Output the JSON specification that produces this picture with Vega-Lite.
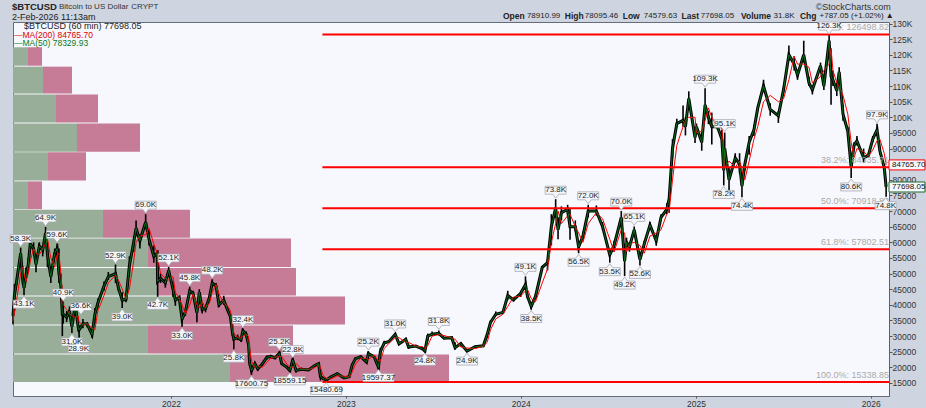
{
"$schema":"https://vega.github.io/schema/vega-lite/v6.json",
"width":876,"height":374,"autosize":"none",
"padding":{"left":13,"top":22,"right":37,"bottom":12},
"background":"#cfd5e0",
"view":{"fill":"#f6f8fd","stroke":"#666c78"},
"config":{"text":{"font":"Liberation Sans"},"axisY":{"labelOverlap":false,"tickCount":30}},
"datasets":{
"vol":[
{"lo":15320,"hi":24150,"up":217,"total":436},
{"lo":24400,"hi":33400,"up":135,"total":280},
{"lo":33700,"hi":42700,"up":169,"total":332},
{"lo":43000,"hi":51800,"up":145,"total":283},
{"lo":52100,"hi":61200,"up":135,"total":278},
{"lo":61500,"hi":70400,"up":90,"total":177},
{"lo":70600,"hi":79500,"up":15,"total":29},
{"lo":79800,"hi":88800,"up":35,"total":73},
{"lo":89000,"hi":98000,"up":64,"total":127},
{"lo":98300,"hi":107300,"up":43,"total":85},
{"lo":107600,"hi":116200,"up":30,"total":59},
{"lo":116500,"hi":122400,"up":15,"total":29}
],
"prices":[
{"d":"2021-02-05","h":38500,"l":33800,"m":36500,"r":35000},
{"d":"2021-02-08","h":46700,"l":38000,"m":43000,"r":37500},
{"d":"2021-02-13","h":49700,"l":46500,"m":48000,"r":42000},
{"d":"2021-02-21","h":58300,"l":54000,"m":56500,"r":50000},
{"d":"2021-02-25","h":52500,"l":46500,"m":48500,"r":52000},
{"d":"2021-02-28","h":47500,"l":43100,"m":45500,"r":50000},
{"d":"2021-03-04","h":52000,"l":47500,"m":49000,"r":47500},
{"d":"2021-03-09","h":55000,"l":50500,"m":53000,"r":50000},
{"d":"2021-03-13","h":61800,"l":57000,"m":59500,"r":54000},
{"d":"2021-03-20","h":60000,"l":56500,"m":58000,"r":58000},
{"d":"2021-03-25","h":56000,"l":50400,"m":53000,"r":56500},
{"d":"2021-04-01","h":60000,"l":57500,"m":58800,"r":56000},
{"d":"2021-04-08","h":58800,"l":55500,"m":57500,"r":58000},
{"d":"2021-04-14","h":64900,"l":61500,"m":63000,"r":59500},
{"d":"2021-04-18","h":60000,"l":52000,"m":56000,"r":61000},
{"d":"2021-04-25","h":50500,"l":47000,"m":49000,"r":55000},
{"d":"2021-05-03","h":58000,"l":55000,"m":56500,"r":52000},
{"d":"2021-05-08","h":59600,"l":56500,"m":58000,"r":56000},
{"d":"2021-05-12","h":58000,"l":47000,"m":50000,"r":56500},
{"d":"2021-05-16","h":50000,"l":43000,"m":46000,"r":50000},
{"d":"2021-05-19","h":42000,"l":30000,"m":37000,"r":44000},
{"d":"2021-05-21","h":40900,"l":34000,"m":37000,"r":40000},
{"d":"2021-05-28","h":38000,"l":34500,"m":36000,"r":38500},
{"d":"2021-06-03","h":39500,"l":36500,"m":38000,"r":37000},
{"d":"2021-06-08","h":34000,"l":31000,"m":33000,"r":36500},
{"d":"2021-06-15","h":40900,"l":38500,"m":40000,"r":36000},
{"d":"2021-06-21","h":35500,"l":31500,"m":33000,"r":36500},
{"d":"2021-06-23","h":33500,"l":28900,"m":32000,"r":34500},
{"d":"2021-07-01","h":35500,"l":32500,"m":34000,"r":33500},
{"d":"2021-07-10","h":34500,"l":32800,"m":33800,"r":34000},
{"d":"2021-07-20","h":31500,"l":29400,"m":30500,"r":32500},
{"d":"2021-07-26","h":39000,"l":34000,"m":37000,"r":32000},
{"d":"2021-08-01","h":42000,"l":39000,"m":40500,"r":38000},
{"d":"2021-08-14","h":47500,"l":44500,"m":46000,"r":43000},
{"d":"2021-08-23","h":50500,"l":48000,"m":49000,"r":47000},
{"d":"2021-09-07","h":52900,"l":47000,"m":50000,"r":49500},
{"d":"2021-09-13","h":46500,"l":44500,"m":45500,"r":48000},
{"d":"2021-09-21","h":44000,"l":39000,"m":41500,"r":45000},
{"d":"2021-09-29","h":42500,"l":40800,"m":41800,"r":42000},
{"d":"2021-10-06","h":55500,"l":49000,"m":52500,"r":45000},
{"d":"2021-10-15","h":62000,"l":57000,"m":60000,"r":54000},
{"d":"2021-10-20","h":67000,"l":62000,"m":64500,"r":60000},
{"d":"2021-10-28","h":62500,"l":58000,"m":60500,"r":62000},
{"d":"2021-11-09","h":69000,"l":64500,"m":66500,"r":62500},
{"d":"2021-11-16","h":64000,"l":59000,"m":61000,"r":64500},
{"d":"2021-11-26","h":59000,"l":53500,"m":55500,"r":59500},
{"d":"2021-12-03","h":57500,"l":55000,"m":56500,"r":56500},
{"d":"2021-12-04","h":53500,"l":42600,"m":47500,"r":55000},
{"d":"2021-12-10","h":50000,"l":47000,"m":48500,"r":50000},
{"d":"2021-12-20","h":48500,"l":45500,"m":47000,"r":48500},
{"d":"2021-12-27","h":52100,"l":50000,"m":51000,"r":48000},
{"d":"2022-01-05","h":47500,"l":42500,"m":45000,"r":49000},
{"d":"2022-01-10","h":42800,"l":39700,"m":41500,"r":44000},
{"d":"2022-01-18","h":43000,"l":41500,"m":42300,"r":42000},
{"d":"2022-01-24","h":36500,"l":33000,"m":35500,"r":40000},
{"d":"2022-01-31","h":38500,"l":36500,"m":37800,"r":37000},
{"d":"2022-02-09","h":45800,"l":43500,"m":44500,"r":40000},
{"d":"2022-02-16","h":44500,"l":43000,"m":43700,"r":43500},
{"d":"2022-02-24","h":39000,"l":34400,"m":37500,"r":40000},
{"d":"2022-03-01","h":45000,"l":43000,"m":44000,"r":39000},
{"d":"2022-03-07","h":39500,"l":37200,"m":38500,"r":41000},
{"d":"2022-03-14","h":39500,"l":37600,"m":38800,"r":39000},
{"d":"2022-03-22","h":43000,"l":41000,"m":42300,"r":40500},
{"d":"2022-03-28","h":48200,"l":46000,"m":47000,"r":44000},
{"d":"2022-04-05","h":47000,"l":45200,"m":46000,"r":46500},
{"d":"2022-04-11","h":40500,"l":39200,"m":40000,"r":43500},
{"d":"2022-04-21","h":42900,"l":40000,"m":41500,"r":40500},
{"d":"2022-04-30","h":38500,"l":37600,"m":38000,"r":39500},
{"d":"2022-05-05","h":37000,"l":35500,"m":36200,"r":38000},
{"d":"2022-05-09","h":34500,"l":30000,"m":31500,"r":35000},
{"d":"2022-05-12","h":30000,"l":25800,"m":29000,"r":31000},
{"d":"2022-05-20","h":30500,"l":28700,"m":29500,"r":29500},
{"d":"2022-05-27","h":29000,"l":28200,"m":28800,"r":29500},
{"d":"2022-05-31","h":32400,"l":30500,"m":31700,"r":30000},
{"d":"2022-06-07","h":31500,"l":29500,"m":30500,"r":30500},
{"d":"2022-06-12","h":27500,"l":26000,"m":27000,"r":30000},
{"d":"2022-06-14","h":22500,"l":20500,"m":21500,"r":26000},
{"d":"2022-06-18","h":20500,"l":17600,"m":19000,"r":22000},
{"d":"2022-06-25","h":21600,"l":20800,"m":21200,"r":20000},
{"d":"2022-07-01","h":20000,"l":18900,"m":19500,"r":20500},
{"d":"2022-07-10","h":21500,"l":20500,"m":21000,"r":20000},
{"d":"2022-07-20","h":23800,"l":22500,"m":23200,"r":21500},
{"d":"2022-07-28","h":24000,"l":22800,"m":23500,"r":23000},
{"d":"2022-08-06","h":23300,"l":22800,"m":23000,"r":23300},
{"d":"2022-08-15","h":25200,"l":24000,"m":24500,"r":23500},
{"d":"2022-08-20","h":21500,"l":20800,"m":21200,"r":23500},
{"d":"2022-08-31","h":20500,"l":19600,"m":20000,"r":21000},
{"d":"2022-09-06","h":20000,"l":18560,"m":19000,"r":20000},
{"d":"2022-09-12","h":22800,"l":21500,"m":22300,"r":20000},
{"d":"2022-09-19","h":19500,"l":18300,"m":19000,"r":21300},
{"d":"2022-09-30","h":19900,"l":19000,"m":19400,"r":19500},
{"d":"2022-10-15","h":19500,"l":19000,"m":19200,"r":19300},
{"d":"2022-10-29","h":20900,"l":20300,"m":20700,"r":20000},
{"d":"2022-11-05","h":21400,"l":21000,"m":21200,"r":20800},
{"d":"2022-11-09","h":18500,"l":15800,"m":17000,"r":20000},
{"d":"2022-11-14","h":17000,"l":16000,"m":16500,"r":17500},
{"d":"2022-11-21","h":16200,"l":15480,"m":15900,"r":16500},
{"d":"2022-12-01","h":17200,"l":16800,"m":17000,"r":16300},
{"d":"2022-12-14","h":18300,"l":17700,"m":18000,"r":17300},
{"d":"2022-12-28","h":16800,"l":16500,"m":16600,"r":17200},
{"d":"2023-01-08","h":17100,"l":16800,"m":17000,"r":16800},
{"d":"2023-01-14","h":21200,"l":20000,"m":20700,"r":18500},
{"d":"2023-01-21","h":23200,"l":22400,"m":22800,"r":21000},
{"d":"2023-02-01","h":23800,"l":22900,"m":23400,"r":23000},
{"d":"2023-02-13","h":22000,"l":21400,"m":21700,"r":22800},
{"d":"2023-02-17","h":25200,"l":24000,"m":24400,"r":22500},
{"d":"2023-03-01","h":23800,"l":23000,"m":23400,"r":24000},
{"d":"2023-03-10","h":20300,"l":19600,"m":20000,"r":22000},
{"d":"2023-03-14","h":26300,"l":24000,"m":25000,"r":22000},
{"d":"2023-03-22","h":28500,"l":27000,"m":27800,"r":26000},
{"d":"2023-04-01","h":28600,"l":28000,"m":28300,"r":27700},
{"d":"2023-04-14","h":31000,"l":30200,"m":30600,"r":29500},
{"d":"2023-04-22","h":27900,"l":27200,"m":27500,"r":29500},
{"d":"2023-05-06","h":29500,"l":28500,"m":29000,"r":28000},
{"d":"2023-05-12","h":27000,"l":25900,"m":26500,"r":28000},
{"d":"2023-05-27","h":27000,"l":26500,"m":26800,"r":26800},
{"d":"2023-06-10","h":26500,"l":25500,"m":25900,"r":26600},
{"d":"2023-06-15","h":25700,"l":24800,"m":25200,"r":26000},
{"d":"2023-06-21","h":30800,"l":28500,"m":30000,"r":27000},
{"d":"2023-06-30","h":31500,"l":30000,"m":30600,"r":30000},
{"d":"2023-07-14","h":31800,"l":30200,"m":30900,"r":30500},
{"d":"2023-07-25","h":29600,"l":29000,"m":29300,"r":30200},
{"d":"2023-08-10","h":29700,"l":29300,"m":29500,"r":29400},
{"d":"2023-08-17","h":28000,"l":25600,"m":26300,"r":29000},
{"d":"2023-08-29","h":28000,"l":27200,"m":27600,"r":26500},
{"d":"2023-09-11","h":25600,"l":24900,"m":25200,"r":26200},
{"d":"2023-09-28","h":27000,"l":26300,"m":26600,"r":26000},
{"d":"2023-10-15","h":27000,"l":26700,"m":26900,"r":26800},
{"d":"2023-10-23","h":31000,"l":29500,"m":30500,"r":28000},
{"d":"2023-10-30","h":35000,"l":34000,"m":34400,"r":32000},
{"d":"2023-11-10","h":37900,"l":36500,"m":37000,"r":35500},
{"d":"2023-11-25","h":37900,"l":37300,"m":37600,"r":37000},
{"d":"2023-12-05","h":44500,"l":41500,"m":43000,"r":39500},
{"d":"2023-12-17","h":42500,"l":41000,"m":41600,"r":42500},
{"d":"2024-01-01","h":44500,"l":42500,"m":43700,"r":42800},
{"d":"2024-01-11","h":49100,"l":45500,"m":46500,"r":44500},
{"d":"2024-01-15","h":43500,"l":42000,"m":42800,"r":45000},
{"d":"2024-01-23","h":40500,"l":38500,"m":39500,"r":42000},
{"d":"2024-02-01","h":43500,"l":42000,"m":42700,"r":41000},
{"d":"2024-02-15","h":52500,"l":51000,"m":52000,"r":47000},
{"d":"2024-02-26","h":54500,"l":51000,"m":53500,"r":51500},
{"d":"2024-03-05","h":69000,"l":59000,"m":65000,"r":60000},
{"d":"2024-03-14","h":73800,"l":68000,"m":71000,"r":66000},
{"d":"2024-03-19","h":68000,"l":61000,"m":64000,"r":70000},
{"d":"2024-03-26","h":71500,"l":67000,"m":69500,"r":66000},
{"d":"2024-04-08","h":72000,"l":68500,"m":70500,"r":68500},
{"d":"2024-04-13","h":71000,"l":60800,"m":65000,"r":69000},
{"d":"2024-04-24","h":67000,"l":63500,"m":65000,"r":65000},
{"d":"2024-05-01","h":60000,"l":56500,"m":58500,"r":63000},
{"d":"2024-05-10","h":63500,"l":60500,"m":62000,"r":60000},
{"d":"2024-05-21","h":72000,"l":68000,"m":70000,"r":66000},
{"d":"2024-06-07","h":71800,"l":68500,"m":70000,"r":69500},
{"d":"2024-06-20","h":66500,"l":64000,"m":65000,"r":67500},
{"d":"2024-07-05","h":58000,"l":53500,"m":56000,"r":61000},
{"d":"2024-07-14","h":60500,"l":57000,"m":59000,"r":57000},
{"d":"2024-07-29","h":70000,"l":66000,"m":68000,"r":64000},
{"d":"2024-08-05","h":58000,"l":49200,"m":54000,"r":63000},
{"d":"2024-08-09","h":61500,"l":58500,"m":60000,"r":57000},
{"d":"2024-08-15","h":60000,"l":57000,"m":58500,"r":59500},
{"d":"2024-08-25","h":65100,"l":62500,"m":64000,"r":60000},
{"d":"2024-09-06","h":57000,"l":52600,"m":54500,"r":59000},
{"d":"2024-09-15","h":60500,"l":58000,"m":59500,"r":56500},
{"d":"2024-09-27","h":66500,"l":64000,"m":65500,"r":62000},
{"d":"2024-10-10","h":61000,"l":58900,"m":60500,"r":63000},
{"d":"2024-10-20","h":69000,"l":67000,"m":68000,"r":64000},
{"d":"2024-11-01","h":72500,"l":69000,"m":70500,"r":69000},
{"d":"2024-11-06","h":76000,"l":69500,"m":74000,"r":70000},
{"d":"2024-11-13","h":93000,"l":87000,"m":90000,"r":80000},
{"d":"2024-11-22","h":99500,"l":97000,"m":98000,"r":91000},
{"d":"2024-12-05","h":103800,"l":97000,"m":99000,"r":97000},
{"d":"2024-12-10","h":100000,"l":94200,"m":97000,"r":99000},
{"d":"2024-12-17","h":108300,"l":104000,"m":106000,"r":100000},
{"d":"2024-12-30","h":95500,"l":91800,"m":93500,"r":100000},
{"d":"2025-01-02","h":98000,"l":96000,"m":97000,"r":95000},
{"d":"2025-01-13","h":95000,"l":89300,"m":92000,"r":95500},
{"d":"2025-01-20","h":109300,"l":101000,"m":104000,"r":99000},
{"d":"2025-01-27","h":102000,"l":97800,"m":100000,"r":103000},
{"d":"2025-02-03","h":101500,"l":91300,"m":97000,"r":100000},
{"d":"2025-02-15","h":98000,"l":96000,"m":97000,"r":97000},
{"d":"2025-02-24","h":96000,"l":91500,"m":93000,"r":96500},
{"d":"2025-02-28","h":85500,"l":78200,"m":83000,"r":90000},
{"d":"2025-03-02","h":95100,"l":84000,"m":90000,"r":84000},
{"d":"2025-03-11","h":84000,"l":76600,"m":80000,"r":86000},
{"d":"2025-03-24","h":88500,"l":85500,"m":87000,"r":84000},
{"d":"2025-04-02","h":88500,"l":82000,"m":85000,"r":86000},
{"d":"2025-04-07","h":80000,"l":74400,"m":78000,"r":83000},
{"d":"2025-04-13","h":86000,"l":83000,"m":85000,"r":80000},
{"d":"2025-04-22","h":94000,"l":88000,"m":92000,"r":86000},
{"d":"2025-05-02","h":97500,"l":94000,"m":96000,"r":93000},
{"d":"2025-05-10","h":104000,"l":102000,"m":103000,"r":97000},
{"d":"2025-05-22","h":112000,"l":108500,"m":110000,"r":105000},
{"d":"2025-06-05","h":104500,"l":100500,"m":102500,"r":107000},
{"d":"2025-06-22","h":102000,"l":98200,"m":100500,"r":105000},
{"d":"2025-07-03","h":110000,"l":108000,"m":109000,"r":106000},
{"d":"2025-07-14","h":123000,"l":118000,"m":120000,"r":112000},
{"d":"2025-07-25","h":119500,"l":115000,"m":117000,"r":119500},
{"d":"2025-08-01","h":115000,"l":112000,"m":113500,"r":117000},
{"d":"2025-08-14","h":124500,"l":117500,"m":120000,"r":117000},
{"d":"2025-08-25","h":113000,"l":110000,"m":111000,"r":116000},
{"d":"2025-09-01","h":110000,"l":107300,"m":108800,"r":111000},
{"d":"2025-09-18","h":117500,"l":115500,"m":116500,"r":113000},
{"d":"2025-09-25","h":112000,"l":108700,"m":110000,"r":115000},
{"d":"2025-10-06","h":126300,"l":123000,"m":124500,"r":117000},
{"d":"2025-10-10","h":122000,"l":104000,"m":113000,"r":122000},
{"d":"2025-10-14","h":115000,"l":110000,"m":112000,"r":115000},
{"d":"2025-10-22","h":111000,"l":106800,"m":108500,"r":111000},
{"d":"2025-10-27","h":116000,"l":113500,"m":114500,"r":110000},
{"d":"2025-11-04","h":104000,"l":98900,"m":101000,"r":107000},
{"d":"2025-11-14","h":97000,"l":94000,"m":95500,"r":101000},
{"d":"2025-11-21","h":87000,"l":80600,"m":84000,"r":92000},
{"d":"2025-11-27","h":92000,"l":90000,"m":91000,"r":87000},
{"d":"2025-12-03","h":94000,"l":91000,"m":92500,"r":90000},
{"d":"2025-12-17","h":90000,"l":85500,"m":87000,"r":89000},
{"d":"2025-12-27","h":88500,"l":87000,"m":87800,"r":87500},
{"d":"2026-01-05","h":94000,"l":92000,"m":93000,"r":89500},
{"d":"2026-01-14","h":97900,"l":94500,"m":96000,"r":92500},
{"d":"2026-01-20","h":90500,"l":88000,"m":89200,"r":93000},
{"d":"2026-01-29","h":85000,"l":83000,"m":84000,"r":88500},
{"d":"2026-02-02","h":78500,"l":74600,"m":77700,"r":84700}
],
"labels":[
{"d":"2021-02-21","p":58300,"t":"58.3K","k":"up"},
{"d":"2021-04-14","p":64900,"t":"64.9K","k":"up"},
{"d":"2021-05-08","p":59600,"t":"59.6K","k":"up"},
{"d":"2021-05-21","p":40900,"t":"40.9K","k":"up"},
{"d":"2021-06-27","p":36600,"t":"36.6K","k":"up"},
{"d":"2021-09-07","p":52900,"t":"52.9K","k":"up"},
{"d":"2021-11-09","p":69000,"t":"69.0K","k":"up"},
{"d":"2021-12-27","p":52100,"t":"52.1K","k":"up"},
{"d":"2022-02-09","p":45800,"t":"45.8K","k":"up"},
{"d":"2022-03-28","p":48200,"t":"48.2K","k":"up"},
{"d":"2022-05-31","p":32400,"t":"32.4K","k":"up"},
{"d":"2022-08-15","p":25200,"t":"25.2K","k":"up"},
{"d":"2022-09-12","p":22800,"t":"22.8K","k":"up"},
{"d":"2023-02-17","p":25200,"t":"25.2K","k":"up"},
{"d":"2023-04-14","p":31000,"t":"31.0K","k":"up"},
{"d":"2023-07-14","p":31800,"t":"31.8K","k":"up"},
{"d":"2024-01-11","p":49100,"t":"49.1K","k":"up"},
{"d":"2024-03-14","p":73800,"t":"73.8K","k":"up"},
{"d":"2024-05-21","p":72000,"t":"72.0K","k":"up"},
{"d":"2024-07-29","p":70000,"t":"70.0K","k":"up"},
{"d":"2024-08-25","p":65100,"t":"65.1K","k":"up"},
{"d":"2025-01-20","p":109300,"t":"109.3K","k":"up"},
{"d":"2025-03-02","p":95100,"t":"95.1K","k":"up"},
{"d":"2025-10-06","p":126300,"t":"126.3K","k":"up"},
{"d":"2026-01-14","p":97900,"t":"97.9K","k":"up"},
{"d":"2021-02-28","p":43100,"t":"43.1K","k":"down"},
{"d":"2021-06-08","p":31000,"t":"31.0K","k":"down"},
{"d":"2021-06-22","p":28900,"t":"28.9K","k":"down"},
{"d":"2021-09-21","p":39000,"t":"39.0K","k":"down"},
{"d":"2021-12-04","p":42700,"t":"42.7K","k":"down"},
{"d":"2022-01-24","p":33000,"t":"33.0K","k":"down"},
{"d":"2022-05-12","p":25800,"t":"25.8K","k":"down"},
{"d":"2022-06-18","p":17600,"t":"17600.75","k":"long"},
{"d":"2022-09-06","p":18560,"t":"18559.15","k":"long"},
{"d":"2022-11-21","p":15480,"t":"15480.69","k":"long"},
{"d":"2023-03-10","p":19600,"t":"19597.37","k":"long"},
{"d":"2023-06-15","p":24800,"t":"24.8K","k":"down"},
{"d":"2023-09-11","p":24900,"t":"24.9K","k":"down"},
{"d":"2024-01-23","p":38500,"t":"38.5K","k":"down"},
{"d":"2024-05-01","p":56500,"t":"56.5K","k":"down"},
{"d":"2024-07-05","p":53500,"t":"53.5K","k":"down"},
{"d":"2024-08-05","p":49200,"t":"49.2K","k":"down"},
{"d":"2024-09-06","p":52600,"t":"52.6K","k":"down"},
{"d":"2025-02-28","p":78200,"t":"78.2K","k":"down"},
{"d":"2025-04-07","p":74400,"t":"74.4K","k":"down"},
{"d":"2025-11-21","p":80600,"t":"80.6K","k":"down"},
{"d":"2026-02-01","p":74600,"t":"74.8K","k":"down"}
],
"fib":[
{"d":"2022-11-13","e":"2026-02-08","p":126498.82,"t":"0.0%: 126498.82"},
{"d":"2022-11-13","e":"2026-02-08","p":84035.71,"t":"38.2%: 84035.71"},
{"d":"2022-11-13","e":"2026-02-08","p":70918.83,"t":"50.0%: 70918.83"},
{"d":"2022-11-13","e":"2026-02-08","p":57802.51,"t":"61.8%: 57802.51"},
{"d":"2022-11-13","e":"2026-02-08","p":15338.85,"t":"100.0%: 15338.85"}
],
"tags":[
{"d":"2026-02-08","p":84765.7,"t":"84765.70","k":"ma"},
{"d":"2026-02-08","p":77698.05,"t":"77698.05","k":"last"}
],
"header":[
{"d":"2021-02-03","p":135300,"t":"$BTCUSD","k":"title"},
{"d":"2021-05-12","p":135300,"t":"Bitcoin to US Dollar","k":"sub"},
{"d":"2021-10-10","p":135300,"t":"CRYPT","k":"sub"},
{"d":"2021-02-03","p":132100,"t":"2-Feb-2026 11:13am","k":"legend"},
{"d":"2021-02-28","p":129100,"t":"$BTCUSD (60 min) 77698.05","k":"legend"},
{"d":"2021-02-07","p":126300,"t":"—MA(200) 84765.70","k":"ma200"},
{"d":"2021-02-07","p":123800,"t":"—MA(50) 78329.93","k":"ma50"},
{"d":"2023-11-25","p":132400,"t":"Open","k":"b"},
{"d":"2024-01-14","p":132400,"t":"78910.99","k":"small"},
{"d":"2024-04-02","p":132400,"t":"High","k":"b"},
{"d":"2024-05-14","p":132400,"t":"78095.46","k":"small"},
{"d":"2024-08-01","p":132400,"t":"Low","k":"b"},
{"d":"2024-09-14","p":132400,"t":"74579.63","k":"small"},
{"d":"2024-12-02","p":132400,"t":"Last","k":"b"},
{"d":"2025-01-11","p":132400,"t":"77698.05","k":"small"},
{"d":"2025-04-05","p":132400,"t":"Volume","k":"b"},
{"d":"2025-06-12","p":132400,"t":"31.8K","k":"small"},
{"d":"2025-08-06","p":132400,"t":"Chg","k":"b"},
{"d":"2025-09-16","p":132400,"t":"+787.05 (+1.02%)","k":"small"},
{"d":"2026-02-01","p":132400,"t":"▲","k":"small"},
{"d":"2025-09-08","p":135300,"t":"©StockCharts.com","k":"stock"}
]
},
"resolve":{"scale":{"x":"independent"}},
"layer":[
{"data":{"name":"vol"},
 "layer":[
 {"mark":{"type":"rect","color":"#98ae98"},
  "encoding":{"x":{"field":"up","type":"quantitative","scale":{"domain":[0,876],"nice":false},"axis":null},"x2":{"datum":0},
   "y":{"field":"lo","type":"quantitative","scale":{"domain":[10841,130483],"nice":false,"zero":false},"title":null,
    "axis":{"orient":"right","tickCount":30,"values":[15000,20000,25000,30000,35000,40000,45000,50000,55000,60000,65000,70000,75000,80000,90000,95000,100000,105000,110000,115000,120000,125000,130000],
     "labelExpr":"datum.value>=100000?(datum.value/1000)+'K':''+datum.value","grid":false,"tickSize":3,"tickColor":"#555","domainColor":"#555","domainDash":[1,1],"labelFont":"Liberation Sans","labelFontSize":8.5,"labelColor":"#333","labelPadding":0,"labelOverlap":false}},
   "y2":{"field":"hi"}}},
 {"mark":{"type":"rect","color":"#c67b97"},
  "encoding":{"x":{"field":"up","type":"quantitative"},"x2":{"field":"total"},"y":{"field":"lo","type":"quantitative"},"y2":{"field":"hi"}}}
 ]},
{"layer":[
 {"data":{"name":"prices"},"mark":{"type":"line","color":"#000","strokeWidth":3},
  "encoding":{"x":{"field":"d","type":"temporal","title":null,"scale":{"domain":["2021-02-05","2026-02-08"]},
    "axis":{"orient":"bottom","values":[{"year":2022,"month":1,"date":1},{"year":2023,"month":1,"date":1},{"year":2024,"month":1,"date":1},{"year":2025,"month":1,"date":1},{"year":2026,"month":1,"date":1}],"format":"%Y","grid":false,"domain":false,"tickSize":2,"tickColor":"#555","labelFont":"Liberation Sans","labelFontSize":8.5,"labelColor":"#333","labelPadding":1}},
   "y":{"field":"m","type":"quantitative","title":null,
    "axis":{"orient":"right","tickCount":30,"values":[15000,20000,25000,30000,35000,40000,45000,50000,55000,60000,65000,70000,75000,80000,90000,95000,100000,105000,110000,115000,120000,125000,130000],
     "labelExpr":"datum.value>=100000?(datum.value/1000)+'K':''+datum.value","grid":false,"tickSize":3,"tickColor":"#555","domainColor":"#555","domainDash":[1,1],"labelFont":"Liberation Sans","labelFontSize":8.5,"labelColor":"#333","labelPadding":0,"labelOverlap":false}}}},
 {"data":{"name":"prices"},"mark":{"type":"rule","color":"#000","strokeWidth":1.6},
  "encoding":{"x":{"field":"d","type":"temporal"},"y":{"field":"l","type":"quantitative"},"y2":{"field":"h"}}},
 {"data":{"name":"prices"},"mark":{"type":"line","color":"#ff0000","strokeWidth":1},
  "encoding":{"x":{"field":"d","type":"temporal"},"y":{"field":"r","type":"quantitative"}}},
 {"data":{"name":"prices"},"mark":{"type":"line","color":"#0a7a1e","strokeWidth":0.9},
  "encoding":{"x":{"field":"d","type":"temporal"},"y":{"field":"m","type":"quantitative"}}},
 {"data":{"name":"fib"},"mark":{"type":"rule","color":"#ff0000","strokeWidth":2},
  "encoding":{"x":{"field":"d","type":"temporal"},"x2":{"field":"e"},"y":{"field":"p","type":"quantitative"}}},
 {"data":{"name":"fib"},"mark":{"type":"text","align":"right","dy":-7,"fontSize":9,"color":"#aaaaaa"},
  "encoding":{"x":{"field":"e","type":"temporal"},"y":{"field":"p","type":"quantitative"},"text":{"field":"t"}}},
 {"data":{"name":"labels"},"transform":[{"filter":"datum.k=='up'"}],
  "mark":{"type":"point","shape":"M-1.05,-1.3 L1.05,-1.3 L1.05,-0.5 L0.3,-0.5 L0,-0.1 L-0.3,-0.5 L-1.05,-0.5 Z","size":400,"filled":true,"fill":"#f4f5f9","stroke":"#a8aab2","strokeWidth":0.8,"opacity":1},
  "encoding":{"x":{"field":"d","type":"temporal"},"y":{"field":"p","type":"quantitative"}}},
 {"data":{"name":"labels"},"transform":[{"filter":"datum.k=='down'"}],
  "mark":{"type":"point","shape":"M-1.05,1.3 L1.05,1.3 L1.05,0.5 L0.3,0.5 L0,0.1 L-0.3,0.5 L-1.05,0.5 Z","size":400,"filled":true,"fill":"#f4f5f9","stroke":"#a8aab2","strokeWidth":0.8,"opacity":1},
  "encoding":{"x":{"field":"d","type":"temporal"},"y":{"field":"p","type":"quantitative"}}},
 {"data":{"name":"labels"},"transform":[{"filter":"datum.k=='long'"}],
  "mark":{"type":"point","shape":"M-1.55,1.3 L1.55,1.3 L1.55,0.5 L0.3,0.5 L0,0.1 L-0.3,0.5 L-1.55,0.5 Z","size":400,"filled":true,"fill":"#f4f5f9","stroke":"#a8aab2","strokeWidth":0.8,"opacity":1},
  "encoding":{"x":{"field":"d","type":"temporal"},"y":{"field":"p","type":"quantitative"}}},
 {"data":{"name":"labels"},"transform":[{"filter":"datum.k=='up'"}],
  "mark":{"type":"text","dy":-9,"fontSize":8,"color":"#222"},
  "encoding":{"x":{"field":"d","type":"temporal"},"y":{"field":"p","type":"quantitative"},"text":{"field":"t"}}},
 {"data":{"name":"labels"},"transform":[{"filter":"datum.k!='up'"}],
  "mark":{"type":"text","dy":9,"fontSize":8,"color":"#222"},
  "encoding":{"x":{"field":"d","type":"temporal"},"y":{"field":"p","type":"quantitative"},"text":{"field":"t"}}},
 {"data":{"name":"tags"},"transform":[{"filter":"datum.k=='ma'"}],
  "mark":{"type":"point","shape":"M0,-0.5 L3.6,-0.5 L3.6,0.5 L0,0.5 Z","size":400,"filled":true,"fill":"#f6f8fd","stroke":"#ff0000","strokeWidth":1,"opacity":1},
  "encoding":{"x":{"field":"d","type":"temporal"},"y":{"field":"p","type":"quantitative"}}},
 {"data":{"name":"tags"},"transform":[{"filter":"datum.k=='last'"}],
  "mark":{"type":"point","shape":"M0,-0.5 L3.6,-0.5 L3.6,0.5 L0,0.5 Z","size":400,"filled":true,"fill":"#f6f8fd","stroke":"#1a6b2a","strokeWidth":1,"opacity":1},
  "encoding":{"x":{"field":"d","type":"temporal"},"y":{"field":"p","type":"quantitative"}}},
 {"data":{"name":"tags"},
  "mark":{"type":"text","align":"left","dx":3,"fontSize":8,"color":"#111"},
  "encoding":{"x":{"field":"d","type":"temporal"},"y":{"field":"p","type":"quantitative"},"text":{"field":"t"}}},
 {"data":{"name":"header"},"transform":[{"filter":"datum.k=='title'"}],
  "mark":{"type":"text","align":"left","fontSize":9.5,"fontWeight":"bold","color":"#222"},
  "encoding":{"x":{"field":"d","type":"temporal"},"y":{"field":"p","type":"quantitative"},"text":{"field":"t"}}},
 {"data":{"name":"header"},"transform":[{"filter":"datum.k=='sub'"}],
  "mark":{"type":"text","align":"left","fontSize":8,"color":"#333"},
  "encoding":{"x":{"field":"d","type":"temporal"},"y":{"field":"p","type":"quantitative"},"text":{"field":"t"}}},
 {"data":{"name":"header"},"transform":[{"filter":"datum.k=='stock'"}],
  "mark":{"type":"text","align":"left","fontSize":9,"color":"#333"},
  "encoding":{"x":{"field":"d","type":"temporal"},"y":{"field":"p","type":"quantitative"},"text":{"field":"t"}}},
 {"data":{"name":"header"},"transform":[{"filter":"datum.k=='small'"}],
  "mark":{"type":"text","align":"left","fontSize":8,"color":"#222"},
  "encoding":{"x":{"field":"d","type":"temporal"},"y":{"field":"p","type":"quantitative"},"text":{"field":"t"}}},
 {"data":{"name":"header"},"transform":[{"filter":"datum.k=='legend'"}],
  "mark":{"type":"text","align":"left","fontSize":9,"color":"#222"},
  "encoding":{"x":{"field":"d","type":"temporal"},"y":{"field":"p","type":"quantitative"},"text":{"field":"t"}}},
 {"data":{"name":"header"},"transform":[{"filter":"datum.k=='b'"}],
  "mark":{"type":"text","align":"left","fontSize":8.5,"fontWeight":"bold","color":"#222"},
  "encoding":{"x":{"field":"d","type":"temporal"},"y":{"field":"p","type":"quantitative"},"text":{"field":"t"}}},
 {"data":{"name":"header"},"transform":[{"filter":"datum.k=='ma200'"}],
  "mark":{"type":"text","align":"left","fontSize":8.5,"color":"#e00000"},
  "encoding":{"x":{"field":"d","type":"temporal"},"y":{"field":"p","type":"quantitative"},"text":{"field":"t"}}},
 {"data":{"name":"header"},"transform":[{"filter":"datum.k=='ma50'"}],
  "mark":{"type":"text","align":"left","fontSize":8.5,"color":"#0a7a1e"},
  "encoding":{"x":{"field":"d","type":"temporal"},"y":{"field":"p","type":"quantitative"},"text":{"field":"t"}}}
]}
]}
